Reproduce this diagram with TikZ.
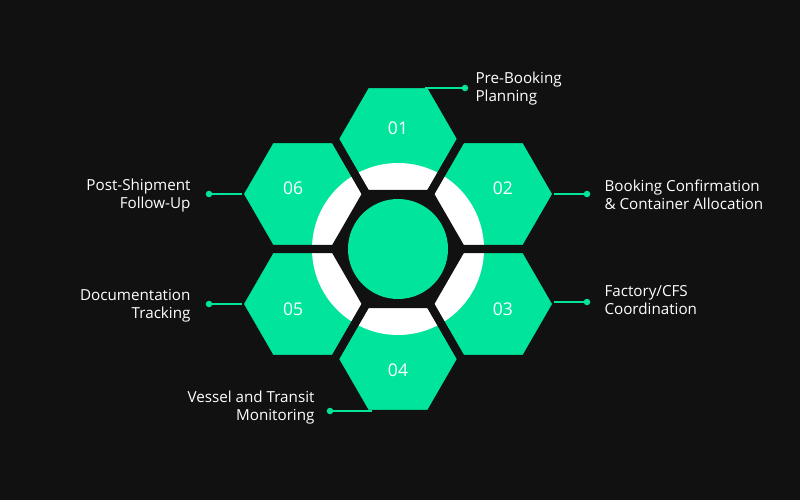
\documentclass[tikz,border=0pt]{standalone}
\usepackage{fontspec}
\usetikzlibrary{calc}
\setmainfont{Open Sans}
\begin{document}
\begin{tikzpicture}[x=1pt,y=-1pt]
\definecolor{bg}{HTML}{111111}
\definecolor{gr}{HTML}{00E59B}
\tikzset{hexf/.style={fill=gr},
 hexs/.style={draw=bg,line width=8pt,line join=miter},
 num/.style={text=white,font=\fontsize{17.5}{19}\selectfont},
 lab/.style={text=white,font=\fontsize{15.2}{18}\selectfont,align=left,anchor=west},
 labr/.style={text=white,font=\fontsize{15.2}{18}\selectfont,align=right,anchor=east},
 con/.style={gr,line width=1.2pt},
 dot/.style={circle,fill=gr,inner sep=0pt,minimum size=6.5pt}}
\fill[bg] (0,0) rectangle (800,500);
\useasboundingbox (0,0) rectangle (800,500);
\coordinate (c) at (398,249);
\foreach \n/\a in {01/-90,02/-30,03/30,04/90,05/150,06/210}{
  \coordinate (h\n) at ($(c)+(\a:110)$);
  \coordinate (n\n) at ($(c)+(\a:121)$);
  \fill[hexf] (h\n) +(0:63.5) -- +(60:63.5) -- +(120:63.5) -- +(180:63.5) -- +(240:63.5) -- +(300:63.5) -- cycle;
}
\fill[white] (c) circle (86);
\fill[bg] (c) +(0:63.5) -- +(60:63.5) -- +(120:63.5) -- +(180:63.5) -- +(240:63.5) -- +(300:63.5) -- cycle;
\foreach \n in {01,02,03,04,05,06}{
  \draw[hexs] (h\n) +(0:63.5) -- +(60:63.5) -- +(120:63.5) -- +(180:63.5) -- +(240:63.5) -- +(300:63.5) -- cycle;
  \node[num] at (n\n) {\n};
}
\fill[gr] (c) circle (50);
\coordinate (a1) at (425,88); \node[dot] (d1) at (465,88) {};
\coordinate (a2) at (554,194); \node[dot] (d2) at (587,194) {};
\coordinate (a3) at (554,302); \node[dot] (d3) at (587,302) {};
\coordinate (a4) at (372,411); \node[dot] (d4) at (330,411) {};
\coordinate (a5) at (242,304); \node[dot] (d5) at (209,304) {};
\coordinate (a6) at (242,194); \node[dot] (d6) at (209,194) {};
\foreach \i in {1,...,6}{\draw[con] (a\i) -- (d\i.center);}
\node[lab] (t1) at (472,89) {Pre-Booking\\Planning};
\node[lab] (t2) at (601,195) {Booking Confirmation\\\& Container Allocation};
\node[lab] (t3) at (601,300) {Factory/CFS\\Coordination};
\node[labr] (t4) at (318,408) {Vessel and Transit\\Monitoring};
\node[labr] (t5) at (194,306) {Documentation\\Tracking};
\node[labr] (t6) at (194,196) {Post-Shipment\\Follow-Up};
\end{tikzpicture}
\end{document}
